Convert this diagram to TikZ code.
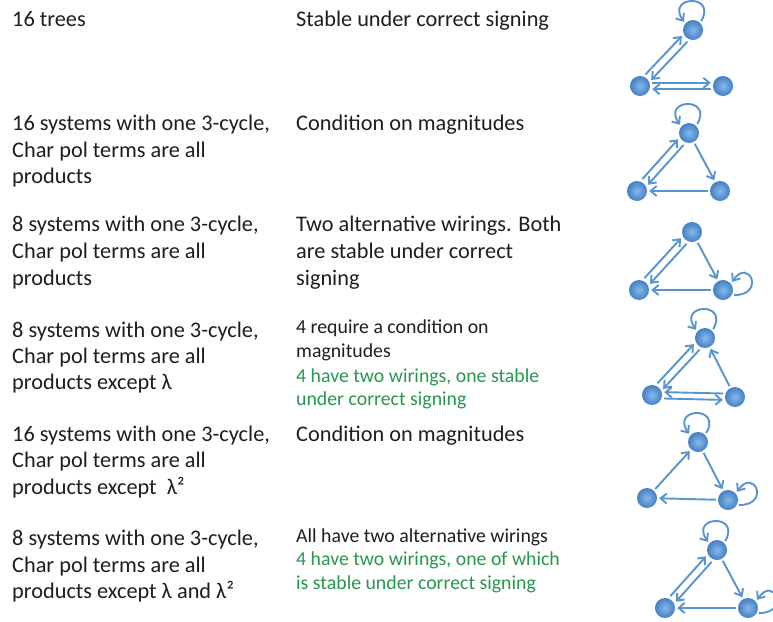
\documentclass[tikz,border=0pt]{standalone}
\usepackage{fontspec}
\setmainfont{Carlito}
\usetikzlibrary{arrows.meta}
\definecolor{txt}{RGB}{30,30,30}
\definecolor{grn}{RGB}{40,150,80}
\definecolor{edgeblue}{RGB}{88,148,208}
\definecolor{nodein}{RGB}{135,185,235}
\definecolor{nodeout}{RGB}{68,128,196}
\tikzset{
  vtx/.style={circle, minimum size=20pt, inner sep=0pt, inner color=nodein, outer color=nodeout},
  arr/.style={edgeblue, line width=1.9pt, -{Straight Barb[length=6pt,width=10pt]}, shorten >=2pt, shorten <=2pt},
  upl/.style={transform canvas={shift={(-2.8,2.8)}}},
  dnr/.style={transform canvas={shift={(2.8,-2.8)}}},
  hup/.style={transform canvas={shift={(0,3.2)}}},
  hdn/.style={transform canvas={shift={(0,-3.2)}}},
  big/.style={anchor=base west, inner sep=0pt, text=txt, font=\fontsize{22.3}{26}\selectfont},
  small/.style={anchor=base west, inner sep=0pt, text=txt, font=\fontsize{19.8}{23}\selectfont},
  smallg/.style={small, text=grn}
}
\newcommand{\toploop}[1]{\draw[arr] (#1.45) .. controls +(60:34) and +(125:34) .. (#1.140);}
\newcommand{\rightloop}[1]{\draw[arr] (#1.-30) .. controls +(0:34) and +(55:32) .. (#1.40);}
\begin{document}
\begin{tikzpicture}[x=1pt,y=1pt]
\useasboundingbox (0,0) rectangle (773,-621);
\fill[white] (0,0) rectangle (773,-621);

% left column
\node[big] (a1) at (12,-26) {16 trees};
\node[big] (a2) at (12,-130) {16 systems with one 3-cycle,};
\node[big] (a3) at (12,-157) {Char pol terms are all};
\node[big] (a4) at (12,-183) {products};
\node[big] (a5) at (12,-231) {8 systems with one 3-cycle,};
\node[big] (a6) at (12,-258) {Char pol terms are all};
\node[big] (a7) at (12,-285) {products};
\node[big] (a8) at (12,-337) {8 systems with one 3-cycle,};
\node[big] (a9) at (12,-363) {Char pol terms are all};
\node[big] (a10) at (12,-389) {products except λ};
\node[big] (a11) at (12,-441) {16 systems with one 3-cycle,};
\node[big] (a12) at (12,-467) {Char pol terms are all};
\node[big] (a13) at (12,-494) {products except\ \ λ²};
\node[big] (a14) at (12,-545) {8 systems with one 3-cycle,};
\node[big] (a15) at (12,-572) {Char pol terms are all};
\node[big] (a16) at (12,-598) {products except λ and λ²};

% middle column
\node[big] (b1) at (296,-26) {Stable under correct signing};
\node[big] (b2) at (296,-130) {Condition on magnitudes};
\node[big] (b3) at (296,-231) {Two alternative wirings. Both};
\node[big] (b4) at (296,-258) {are stable under correct};
\node[big] (b5) at (296,-285) {signing};
\node[small] (b6) at (296,-333) {4 require a condition on};
\node[small] (b7) at (296,-357) {magnitudes};
\node[smallg] (b8) at (296,-382) {4 have two wirings, one stable};
\node[smallg] (b9) at (296,-405) {under correct signing};
\node[big] (b10) at (296,-441) {Condition on magnitudes};
\node[small] (b11) at (296,-542) {All have two alternative wirings};
\node[smallg] (b12) at (296,-565) {4 have two wirings, one of which};
\node[smallg] (b13) at (296,-589) {is stable under correct signing};

% graph 1
\node[vtx] (t1) at (693,-30) {};
\node[vtx] (l1) at (640,-86) {};
\node[vtx] (r1) at (723,-86) {};
\toploop{t1}
\draw[arr,upl] (l1) -- (t1);
\draw[arr,dnr] (t1) -- (l1);
\draw[arr,hup] (l1) -- (r1);
\draw[arr,hdn] (r1) -- (l1);

% graph 2
\node[vtx] (t2) at (689,-133) {};
\node[vtx] (l2) at (637,-191) {};
\node[vtx] (r2) at (720,-191) {};
\toploop{t2}
\draw[arr,upl] (l2) -- (t2);
\draw[arr,dnr] (t2) -- (l2);
\draw[arr] (t2) -- (r2);
\draw[arr] (r2) -- (l2);

% graph 3
\node[vtx] (t3) at (692,-232) {};
\node[vtx] (l3) at (639,-290) {};
\node[vtx] (r3) at (723,-290) {};
\rightloop{r3}
\draw[arr,upl] (l3) -- (t3);
\draw[arr,dnr] (t3) -- (l3);
\draw[arr] (t3) -- (r3);
\draw[arr] (r3) -- (l3);

% graph 4
\node[vtx] (t4) at (705,-338) {};
\node[vtx] (l4) at (652,-395) {};
\node[vtx] (r4) at (735,-397) {};
\toploop{t4}
\draw[arr,upl] (l4) -- (t4);
\draw[arr,dnr] (t4) -- (l4);
\draw[arr] (r4) -- (t4);
\draw[arr,hup] (r4) -- (l4);
\draw[arr,hdn] (l4) -- (r4);

% graph 5
\node[vtx] (t5) at (698,-442) {};
\node[vtx] (l5) at (647,-498) {};
\node[vtx] (r5) at (728,-500) {};
\toploop{t5}
\rightloop{r5}
\draw[arr] (l5) -- (t5);
\draw[arr] (t5) -- (r5);
\draw[arr] (r5) -- (l5);

% graph 6
\node[vtx] (t6) at (717,-550) {};
\node[vtx] (l6) at (665,-608) {};
\node[vtx] (r6) at (748,-608) {};
\toploop{t6}
\rightloop{r6}
\draw[arr,upl] (l6) -- (t6);
\draw[arr,dnr] (t6) -- (l6);
\draw[arr] (t6) -- (r6);
\draw[arr] (r6) -- (l6);
\end{tikzpicture}
\end{document}
